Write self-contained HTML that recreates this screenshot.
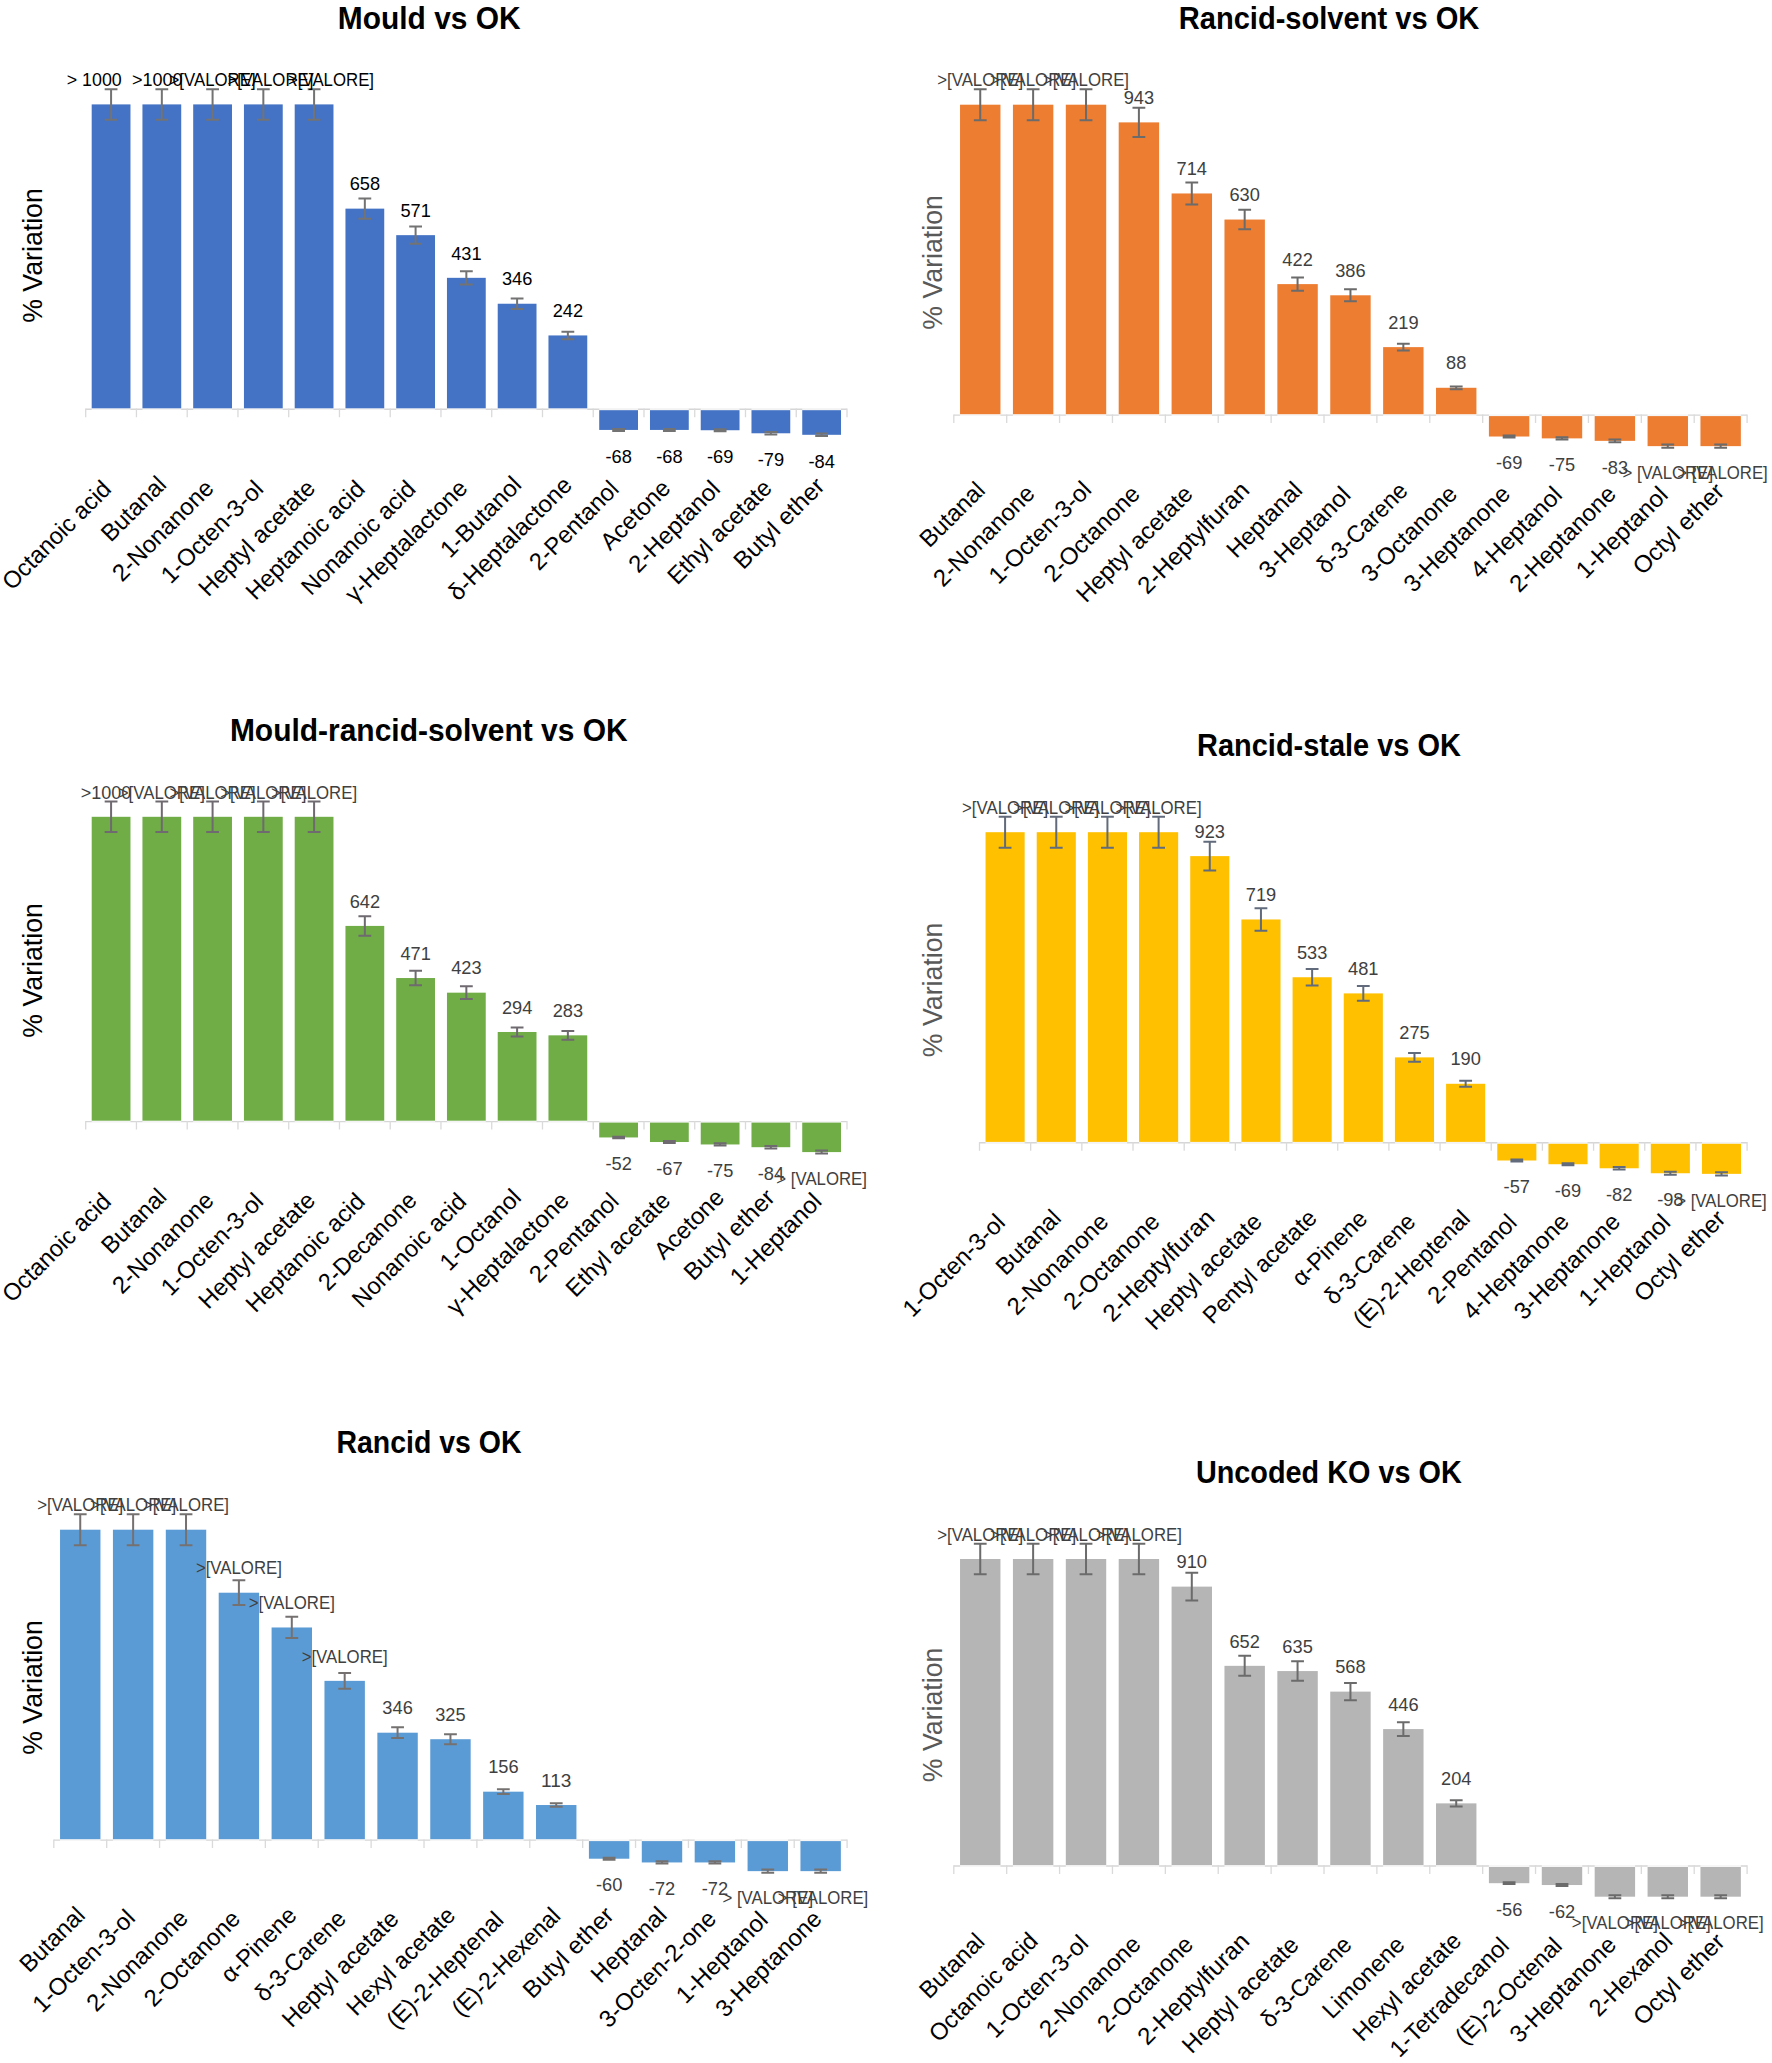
<!DOCTYPE html>
<html lang="en">
<head>
<meta charset="utf-8">
<title>Percent variation of volatile compounds vs OK</title>
<style>
html,body{margin:0;padding:0;background:#fff;}
body{width:1772px;height:2063px;overflow:hidden;}
svg{display:block;font-family:"Liberation Sans",sans-serif;}
text{white-space:pre;}
</style>
</head>
<body>
<svg width="1772" height="2063" viewBox="0 0 1772 2063">
<rect width="1772" height="2063" fill="#fff"/>
<g>
<path d="M85.70 409.20H847.00" stroke="#d6d6d6" stroke-width="1.4" fill="none"/>
<path d="M85.70 408.50v8.70M136.45 408.50v8.70M187.21 408.50v8.70M237.96 408.50v8.70M288.71 408.50v8.70M339.47 408.50v8.70M390.22 408.50v8.70M440.97 408.50v8.70M491.73 408.50v8.70M542.48 408.50v8.70M593.23 408.50v8.70M643.99 408.50v8.70M694.74 408.50v8.70M745.49 408.50v8.70M796.25 408.50v8.70M847.00 408.50v8.70" stroke="#dadada" stroke-width="1.3" fill="none"/>
<path d="M91.69 409.20h38.78M142.44 409.20h38.78M193.20 409.20h38.78M243.95 409.20h38.78M294.70 409.20h38.78M345.46 409.20h38.78M396.21 409.20h38.78M446.96 409.20h38.78M497.72 409.20h38.78M548.47 409.20h38.78M599.22 409.20h38.78M649.98 409.20h38.78M700.73 409.20h38.78M751.48 409.20h38.78M802.24 409.20h38.78" stroke="#fff" stroke-opacity="0.7" stroke-width="2" fill="none"/>
<g fill="#4472c4">
<rect x="91.69" y="104.40" width="38.78" height="303.90"/>
<rect x="142.44" y="104.40" width="38.78" height="303.90"/>
<rect x="193.20" y="104.40" width="38.78" height="303.90"/>
<rect x="243.95" y="104.40" width="38.78" height="303.90"/>
<rect x="294.70" y="104.40" width="38.78" height="303.90"/>
<rect x="345.46" y="208.64" width="38.78" height="199.66"/>
<rect x="396.21" y="235.16" width="38.78" height="173.14"/>
<rect x="446.96" y="277.83" width="38.78" height="130.47"/>
<rect x="497.72" y="303.74" width="38.78" height="104.56"/>
<rect x="548.47" y="335.44" width="38.78" height="72.86"/>
<rect x="599.22" y="410.20" width="38.78" height="19.73"/>
<rect x="649.98" y="410.20" width="38.78" height="19.73"/>
<rect x="700.73" y="410.20" width="38.78" height="20.03"/>
<rect x="751.48" y="410.20" width="38.78" height="23.08"/>
<rect x="802.24" y="410.20" width="38.78" height="24.60"/>
</g>
<path d="M111.08 89.16V119.64M104.68 89.16h12.80M104.68 119.64h12.80M161.83 89.16V119.64M155.43 89.16h12.80M155.43 119.64h12.80M212.58 89.16V119.64M206.18 89.16h12.80M206.18 119.64h12.80M263.34 89.16V119.64M256.94 89.16h12.80M256.94 119.64h12.80M314.09 89.16V119.64M307.69 89.16h12.80M307.69 119.64h12.80M364.84 198.61V218.67M358.44 198.61h12.80M358.44 218.67h12.80M415.60 226.46V243.86M409.20 226.46h12.80M409.20 243.86h12.80M466.35 271.26V284.40M459.95 271.26h12.80M459.95 284.40h12.80M517.10 298.47V309.01M510.70 298.47h12.80M510.70 309.01h12.80M567.86 331.75V339.13M561.46 331.75h12.80M561.46 339.13h12.80M618.61 428.89V430.96M612.21 428.89h12.80M612.21 430.96h12.80M669.36 428.89V430.96M662.96 428.89h12.80M662.96 430.96h12.80M720.12 429.18V431.28M713.72 429.18h12.80M713.72 431.28h12.80M770.87 432.08V434.48M764.47 432.08h12.80M764.47 434.48h12.80M821.62 433.52V436.08M815.22 433.52h12.80M815.22 436.08h12.80" stroke="#737373" stroke-width="2" fill="none"/>
<text x="337.76" y="28.60" font-size="31.20" font-weight="700" textLength="182.88" lengthAdjust="spacingAndGlyphs">Mould vs OK</text>
<text transform="translate(42.40 255.50) rotate(-90)" x="-67.30" y="0.00" font-size="26.98" textLength="134.61" lengthAdjust="spacingAndGlyphs">% Variation</text>
<text x="66.69" y="86.10" font-size="18.40" textLength="55.03" lengthAdjust="spacingAndGlyphs">&gt; 1000</text>
<text x="131.95" y="86.10" font-size="18.40" textLength="50.51" lengthAdjust="spacingAndGlyphs">&gt;1000</text>
<text x="169.56" y="86.10" font-size="18.40" textLength="86.05" lengthAdjust="spacingAndGlyphs">&gt;[VALORE]</text>
<text x="227.38" y="86.10" font-size="18.40" textLength="86.05" lengthAdjust="spacingAndGlyphs">&gt;[VALORE]</text>
<text x="287.98" y="86.10" font-size="18.40" textLength="86.05" lengthAdjust="spacingAndGlyphs">&gt;[VALORE]</text>
<text x="349.64" y="190.34" font-size="18.40" textLength="30.41" lengthAdjust="spacingAndGlyphs">658</text>
<text x="400.39" y="216.86" font-size="18.40" textLength="30.41" lengthAdjust="spacingAndGlyphs">571</text>
<text x="451.14" y="259.53" font-size="18.40" textLength="30.41" lengthAdjust="spacingAndGlyphs">431</text>
<text x="501.90" y="285.44" font-size="18.40" textLength="30.41" lengthAdjust="spacingAndGlyphs">346</text>
<text x="552.65" y="317.14" font-size="18.40" textLength="30.41" lengthAdjust="spacingAndGlyphs">242</text>
<text x="605.41" y="462.63" font-size="18.40" textLength="26.40" lengthAdjust="spacingAndGlyphs">-68</text>
<text x="656.16" y="462.63" font-size="18.40" textLength="26.40" lengthAdjust="spacingAndGlyphs">-68</text>
<text x="706.92" y="462.93" font-size="18.40" textLength="26.40" lengthAdjust="spacingAndGlyphs">-69</text>
<text x="757.67" y="465.98" font-size="18.40" textLength="26.40" lengthAdjust="spacingAndGlyphs">-79</text>
<text x="808.42" y="467.50" font-size="18.40" textLength="26.40" lengthAdjust="spacingAndGlyphs">-84</text>
<text transform="translate(112.58 490.50) rotate(-45)" x="-142.34" y="0.00" font-size="23.92" textLength="142.34" lengthAdjust="spacingAndGlyphs">Octanoic acid</text>
<text transform="translate(167.83 486.00) rotate(-45)" x="-80.73" y="0.00" font-size="23.92" textLength="80.73" lengthAdjust="spacingAndGlyphs">Butanal</text>
<text transform="translate(215.08 489.50) rotate(-45)" x="-131.71" y="0.00" font-size="23.92" textLength="131.71" lengthAdjust="spacingAndGlyphs">2-Nonanone</text>
<text transform="translate(264.84 490.50) rotate(-45)" x="-133.15" y="0.00" font-size="23.92" textLength="133.15" lengthAdjust="spacingAndGlyphs">1-Octen-3-ol</text>
<text transform="translate(316.59 489.50) rotate(-45)" x="-153.22" y="0.00" font-size="23.92" textLength="153.22" lengthAdjust="spacingAndGlyphs">Heptyl acetate</text>
<text transform="translate(366.34 490.50) rotate(-45)" x="-156.81" y="0.00" font-size="23.92" textLength="156.81" lengthAdjust="spacingAndGlyphs">Heptanoic acid</text>
<text transform="translate(417.10 490.50) rotate(-45)" x="-149.89" y="0.00" font-size="23.92" textLength="149.89" lengthAdjust="spacingAndGlyphs">Nonanoic acid</text>
<text transform="translate(468.85 489.50) rotate(-45)" x="-161.27" y="0.00" font-size="23.92" textLength="161.27" lengthAdjust="spacingAndGlyphs">γ-Heptalactone</text>
<text transform="translate(522.90 486.20) rotate(-45)" x="-103.12" y="0.00" font-size="23.92" textLength="103.12" lengthAdjust="spacingAndGlyphs">1-Butanol</text>
<text transform="translate(573.36 486.50) rotate(-45)" x="-163.28" y="0.00" font-size="23.92" textLength="163.28" lengthAdjust="spacingAndGlyphs">δ-Heptalactone</text>
<text transform="translate(620.11 490.50) rotate(-45)" x="-114.59" y="0.00" font-size="23.92" textLength="114.59" lengthAdjust="spacingAndGlyphs">2-Pentanol</text>
<text transform="translate(671.86 489.50) rotate(-45)" x="-87.60" y="0.00" font-size="23.92" textLength="87.60" lengthAdjust="spacingAndGlyphs">Acetone</text>
<text transform="translate(721.62 490.50) rotate(-45)" x="-118.00" y="0.00" font-size="23.92" textLength="118.00" lengthAdjust="spacingAndGlyphs">2-Heptanol</text>
<text transform="translate(773.37 489.50) rotate(-45)" x="-136.11" y="0.00" font-size="23.92" textLength="136.11" lengthAdjust="spacingAndGlyphs">Ethyl acetate</text>
<text transform="translate(826.12 487.50) rotate(-45)" x="-117.29" y="0.00" font-size="23.92" textLength="117.29" lengthAdjust="spacingAndGlyphs">Butyl ether</text>
</g>
<g>
<path d="M953.80 415.10H1747.10" stroke="#d6d6d6" stroke-width="1.4" fill="none"/>
<path d="M953.80 414.40v8.70M1006.69 414.40v8.70M1059.57 414.40v8.70M1112.46 414.40v8.70M1165.35 414.40v8.70M1218.23 414.40v8.70M1271.12 414.40v8.70M1324.01 414.40v8.70M1376.89 414.40v8.70M1429.78 414.40v8.70M1482.67 414.40v8.70M1535.55 414.40v8.70M1588.44 414.40v8.70M1641.33 414.40v8.70M1694.21 414.40v8.70M1747.10 414.40v8.70" stroke="#dadada" stroke-width="1.3" fill="none"/>
<path d="M960.04 415.10h40.41M1012.93 415.10h40.41M1065.81 415.10h40.41M1118.70 415.10h40.41M1171.59 415.10h40.41M1224.47 415.10h40.41M1277.36 415.10h40.41M1330.25 415.10h40.41M1383.13 415.10h40.41M1436.02 415.10h40.41M1488.91 415.10h40.41M1541.79 415.10h40.41M1594.68 415.10h40.41M1647.57 415.10h40.41M1700.45 415.10h40.41" stroke="#fff" stroke-opacity="0.7" stroke-width="2" fill="none"/>
<g fill="#ed7d31">
<rect x="960.04" y="104.70" width="40.41" height="309.50"/>
<rect x="1012.93" y="104.70" width="40.41" height="309.50"/>
<rect x="1065.81" y="104.70" width="40.41" height="309.50"/>
<rect x="1118.70" y="122.39" width="40.41" height="291.81"/>
<rect x="1171.59" y="193.47" width="40.41" height="220.73"/>
<rect x="1224.47" y="219.55" width="40.41" height="194.65"/>
<rect x="1277.36" y="284.11" width="40.41" height="130.09"/>
<rect x="1330.25" y="295.29" width="40.41" height="118.91"/>
<rect x="1383.13" y="347.12" width="40.41" height="67.08"/>
<rect x="1436.02" y="387.78" width="40.41" height="26.42"/>
<rect x="1488.91" y="416.10" width="40.41" height="20.42"/>
<rect x="1541.79" y="416.10" width="40.41" height="22.28"/>
<rect x="1594.68" y="416.10" width="40.41" height="24.76"/>
<rect x="1647.57" y="416.10" width="40.41" height="30.04"/>
<rect x="1700.45" y="416.10" width="40.41" height="30.04"/>
</g>
<path d="M980.24 89.18V120.22M973.84 89.18h12.80M973.84 120.22h12.80M1033.13 89.18V120.22M1026.73 89.18h12.80M1026.73 120.22h12.80M1086.02 89.18V120.22M1079.62 89.18h12.80M1079.62 120.22h12.80M1138.90 107.76V137.03M1132.50 107.76h12.80M1132.50 137.03h12.80M1191.79 182.39V204.56M1185.39 182.39h12.80M1185.39 204.56h12.80M1244.68 209.77V229.33M1238.28 209.77h12.80M1238.28 229.33h12.80M1297.56 277.56V290.66M1291.16 277.56h12.80M1291.16 290.66h12.80M1350.45 289.29V301.28M1344.05 289.29h12.80M1344.05 301.28h12.80M1403.34 343.72V350.52M1396.94 343.72h12.80M1396.94 350.52h12.80M1456.22 386.42V389.15M1449.82 386.42h12.80M1449.82 389.15h12.80M1509.11 435.45V437.59M1502.71 435.45h12.80M1502.71 437.59h12.80M1562.00 437.22V439.54M1555.60 437.22h12.80M1555.60 439.54h12.80M1614.88 439.58V442.15M1608.48 439.58h12.80M1608.48 442.15h12.80M1667.77 444.59V447.69M1661.37 444.59h12.80M1661.37 447.69h12.80M1720.66 444.59V447.69M1714.26 444.59h12.80M1714.26 447.69h12.80" stroke="#6b6b6b" stroke-width="2" fill="none"/>
<text x="1178.74" y="28.60" font-size="31.20" font-weight="700" textLength="300.52" lengthAdjust="spacingAndGlyphs">Rancid-solvent vs OK</text>
<text transform="translate(942.40 262.40) rotate(-90)" x="-67.30" y="0.00" font-size="26.98" fill="#595959" textLength="134.61" lengthAdjust="spacingAndGlyphs">% Variation</text>
<text x="937.22" y="86.40" font-size="18.40" fill="#404040" textLength="86.05" lengthAdjust="spacingAndGlyphs">&gt;[VALORE]</text>
<text x="990.11" y="86.40" font-size="18.40" fill="#404040" textLength="86.05" lengthAdjust="spacingAndGlyphs">&gt;[VALORE]</text>
<text x="1042.99" y="86.40" font-size="18.40" fill="#404040" textLength="86.05" lengthAdjust="spacingAndGlyphs">&gt;[VALORE]</text>
<text x="1123.70" y="104.09" font-size="18.40" fill="#404040" textLength="30.41" lengthAdjust="spacingAndGlyphs">943</text>
<text x="1176.58" y="175.17" font-size="18.40" fill="#404040" textLength="30.41" lengthAdjust="spacingAndGlyphs">714</text>
<text x="1229.47" y="201.25" font-size="18.40" fill="#404040" textLength="30.41" lengthAdjust="spacingAndGlyphs">630</text>
<text x="1282.36" y="265.81" font-size="18.40" fill="#404040" textLength="30.41" lengthAdjust="spacingAndGlyphs">422</text>
<text x="1335.24" y="276.99" font-size="18.40" fill="#404040" textLength="30.41" lengthAdjust="spacingAndGlyphs">386</text>
<text x="1388.13" y="328.82" font-size="18.40" fill="#404040" textLength="30.41" lengthAdjust="spacingAndGlyphs">219</text>
<text x="1446.09" y="369.48" font-size="18.40" fill="#404040" textLength="20.27" lengthAdjust="spacingAndGlyphs">88</text>
<text x="1495.91" y="469.22" font-size="18.40" fill="#404040" textLength="26.40" lengthAdjust="spacingAndGlyphs">-69</text>
<text x="1548.80" y="471.08" font-size="18.40" fill="#404040" textLength="26.40" lengthAdjust="spacingAndGlyphs">-75</text>
<text x="1601.68" y="473.56" font-size="18.40" fill="#404040" textLength="26.40" lengthAdjust="spacingAndGlyphs">-83</text>
<text x="1622.49" y="478.84" font-size="18.40" fill="#404040" textLength="90.57" lengthAdjust="spacingAndGlyphs">&gt; [VALORE]</text>
<text x="1677.22" y="478.84" font-size="18.40" fill="#404040" textLength="90.57" lengthAdjust="spacingAndGlyphs">&gt; [VALORE]</text>
<text transform="translate(986.44 491.70) rotate(-45)" x="-80.73" y="0.00" font-size="23.92" textLength="80.73" lengthAdjust="spacingAndGlyphs">Butanal</text>
<text transform="translate(1036.13 494.90) rotate(-45)" x="-131.71" y="0.00" font-size="23.92" textLength="131.71" lengthAdjust="spacingAndGlyphs">2-Nonanone</text>
<text transform="translate(1092.72 491.20) rotate(-45)" x="-133.15" y="0.00" font-size="23.92" textLength="133.15" lengthAdjust="spacingAndGlyphs">1-Octen-3-ol</text>
<text transform="translate(1141.40 495.40) rotate(-45)" x="-124.16" y="0.00" font-size="23.92" textLength="124.16" lengthAdjust="spacingAndGlyphs">2-Octanone</text>
<text transform="translate(1194.29 495.40) rotate(-45)" x="-153.22" y="0.00" font-size="23.92" textLength="153.22" lengthAdjust="spacingAndGlyphs">Heptyl acetate</text>
<text transform="translate(1250.88 491.70) rotate(-45)" x="-146.51" y="0.00" font-size="23.92" textLength="146.51" lengthAdjust="spacingAndGlyphs">2-Heptylfuran</text>
<text transform="translate(1303.76 491.70) rotate(-45)" x="-95.61" y="0.00" font-size="23.92" textLength="95.61" lengthAdjust="spacingAndGlyphs">Heptanal</text>
<text transform="translate(1351.95 496.40) rotate(-45)" x="-118.00" y="0.00" font-size="23.92" textLength="118.00" lengthAdjust="spacingAndGlyphs">3-Heptanol</text>
<text transform="translate(1409.14 492.10) rotate(-45)" x="-117.28" y="0.00" font-size="23.92" textLength="117.28" lengthAdjust="spacingAndGlyphs">δ-3-Carene</text>
<text transform="translate(1458.72 495.40) rotate(-45)" x="-124.16" y="0.00" font-size="23.92" textLength="124.16" lengthAdjust="spacingAndGlyphs">3-Octanone</text>
<text transform="translate(1511.61 495.40) rotate(-45)" x="-138.63" y="0.00" font-size="23.92" textLength="138.63" lengthAdjust="spacingAndGlyphs">3-Heptanone</text>
<text transform="translate(1563.50 496.40) rotate(-45)" x="-118.00" y="0.00" font-size="23.92" textLength="118.00" lengthAdjust="spacingAndGlyphs">4-Heptanol</text>
<text transform="translate(1617.38 495.40) rotate(-45)" x="-138.63" y="0.00" font-size="23.92" textLength="138.63" lengthAdjust="spacingAndGlyphs">2-Heptanone</text>
<text transform="translate(1669.27 496.40) rotate(-45)" x="-118.00" y="0.00" font-size="23.92" textLength="118.00" lengthAdjust="spacingAndGlyphs">1-Heptanol</text>
<text transform="translate(1725.66 492.90) rotate(-45)" x="-117.70" y="0.00" font-size="23.92" textLength="117.70" lengthAdjust="spacingAndGlyphs">Octyl ether</text>
</g>
<g>
<path d="M85.70 1121.60H847.00" stroke="#d6d6d6" stroke-width="1.4" fill="none"/>
<path d="M85.70 1120.90v8.70M136.45 1120.90v8.70M187.21 1120.90v8.70M237.96 1120.90v8.70M288.71 1120.90v8.70M339.47 1120.90v8.70M390.22 1120.90v8.70M440.97 1120.90v8.70M491.73 1120.90v8.70M542.48 1120.90v8.70M593.23 1120.90v8.70M643.99 1120.90v8.70M694.74 1120.90v8.70M745.49 1120.90v8.70M796.25 1120.90v8.70M847.00 1120.90v8.70" stroke="#dadada" stroke-width="1.3" fill="none"/>
<path d="M91.69 1121.60h38.78M142.44 1121.60h38.78M193.20 1121.60h38.78M243.95 1121.60h38.78M294.70 1121.60h38.78M345.46 1121.60h38.78M396.21 1121.60h38.78M446.96 1121.60h38.78M497.72 1121.60h38.78M548.47 1121.60h38.78M599.22 1121.60h38.78M649.98 1121.60h38.78M700.73 1121.60h38.78M751.48 1121.60h38.78M802.24 1121.60h38.78" stroke="#fff" stroke-opacity="0.7" stroke-width="2" fill="none"/>
<g fill="#70ad47">
<rect x="91.69" y="816.80" width="38.78" height="303.90"/>
<rect x="142.44" y="816.80" width="38.78" height="303.90"/>
<rect x="193.20" y="816.80" width="38.78" height="303.90"/>
<rect x="243.95" y="816.80" width="38.78" height="303.90"/>
<rect x="294.70" y="816.80" width="38.78" height="303.90"/>
<rect x="345.46" y="925.92" width="38.78" height="194.78"/>
<rect x="396.21" y="978.04" width="38.78" height="142.66"/>
<rect x="446.96" y="992.67" width="38.78" height="128.03"/>
<rect x="497.72" y="1031.99" width="38.78" height="88.71"/>
<rect x="548.47" y="1035.34" width="38.78" height="85.36"/>
<rect x="599.22" y="1122.60" width="38.78" height="14.85"/>
<rect x="649.98" y="1122.60" width="38.78" height="19.42"/>
<rect x="700.73" y="1122.60" width="38.78" height="21.86"/>
<rect x="751.48" y="1122.60" width="38.78" height="24.60"/>
<rect x="802.24" y="1122.60" width="38.78" height="29.48"/>
</g>
<path d="M111.08 801.56V832.04M104.68 801.56h12.80M104.68 832.04h12.80M161.83 801.56V832.04M155.43 801.56h12.80M155.43 832.04h12.80M212.58 801.56V832.04M206.18 801.56h12.80M206.18 832.04h12.80M263.34 801.56V832.04M256.94 801.56h12.80M256.94 832.04h12.80M314.09 801.56V832.04M307.69 801.56h12.80M307.69 832.04h12.80M364.84 916.13V935.70M358.44 916.13h12.80M358.44 935.70h12.80M415.60 970.86V985.22M409.20 970.86h12.80M409.20 985.22h12.80M466.35 986.22V999.12M459.95 986.22h12.80M459.95 999.12h12.80M517.10 1027.51V1036.47M510.70 1027.51h12.80M510.70 1036.47h12.80M567.86 1031.03V1039.65M561.46 1031.03h12.80M561.46 1039.65h12.80M618.61 1136.66V1138.24M612.21 1136.66h12.80M612.21 1138.24h12.80M669.36 1141.00V1143.04M662.96 1141.00h12.80M662.96 1143.04h12.80M720.12 1143.32V1145.60M713.72 1143.32h12.80M713.72 1145.60h12.80M770.87 1145.92V1148.48M764.47 1145.92h12.80M764.47 1148.48h12.80M821.62 1150.56V1153.60M815.22 1150.56h12.80M815.22 1153.60h12.80" stroke="#6f6a70" stroke-width="2" fill="none"/>
<text x="229.88" y="740.70" font-size="31.20" font-weight="700" textLength="397.84" lengthAdjust="spacingAndGlyphs">Mould-rancid-solvent vs OK</text>
<text transform="translate(42.40 970.40) rotate(-90)" x="-67.30" y="0.00" font-size="26.98" textLength="134.61" lengthAdjust="spacingAndGlyphs">% Variation</text>
<text x="80.75" y="798.50" font-size="18.40" fill="#404040" textLength="50.51" lengthAdjust="spacingAndGlyphs">&gt;1000</text>
<text x="118.81" y="798.50" font-size="18.40" fill="#404040" textLength="86.05" lengthAdjust="spacingAndGlyphs">&gt;[VALORE]</text>
<text x="169.56" y="798.50" font-size="18.40" fill="#404040" textLength="86.05" lengthAdjust="spacingAndGlyphs">&gt;[VALORE]</text>
<text x="220.31" y="798.50" font-size="18.40" fill="#404040" textLength="86.05" lengthAdjust="spacingAndGlyphs">&gt;[VALORE]</text>
<text x="271.07" y="798.50" font-size="18.40" fill="#404040" textLength="86.05" lengthAdjust="spacingAndGlyphs">&gt;[VALORE]</text>
<text x="349.64" y="907.62" font-size="18.40" fill="#404040" textLength="30.41" lengthAdjust="spacingAndGlyphs">642</text>
<text x="400.39" y="959.74" font-size="18.40" fill="#404040" textLength="30.41" lengthAdjust="spacingAndGlyphs">471</text>
<text x="451.14" y="974.37" font-size="18.40" fill="#404040" textLength="30.41" lengthAdjust="spacingAndGlyphs">423</text>
<text x="501.90" y="1013.69" font-size="18.40" fill="#404040" textLength="30.41" lengthAdjust="spacingAndGlyphs">294</text>
<text x="552.65" y="1017.04" font-size="18.40" fill="#404040" textLength="30.41" lengthAdjust="spacingAndGlyphs">283</text>
<text x="605.41" y="1170.15" font-size="18.40" fill="#404040" textLength="26.40" lengthAdjust="spacingAndGlyphs">-52</text>
<text x="656.16" y="1174.72" font-size="18.40" fill="#404040" textLength="26.40" lengthAdjust="spacingAndGlyphs">-67</text>
<text x="706.92" y="1177.16" font-size="18.40" fill="#404040" textLength="26.40" lengthAdjust="spacingAndGlyphs">-75</text>
<text x="757.67" y="1179.90" font-size="18.40" fill="#404040" textLength="26.40" lengthAdjust="spacingAndGlyphs">-84</text>
<text x="776.34" y="1184.78" font-size="18.40" fill="#404040" textLength="90.57" lengthAdjust="spacingAndGlyphs">&gt; [VALORE]</text>
<text transform="translate(112.58 1202.90) rotate(-45)" x="-142.34" y="0.00" font-size="23.92" textLength="142.34" lengthAdjust="spacingAndGlyphs">Octanoic acid</text>
<text transform="translate(168.03 1198.20) rotate(-45)" x="-80.73" y="0.00" font-size="23.92" textLength="80.73" lengthAdjust="spacingAndGlyphs">Butanal</text>
<text transform="translate(215.08 1201.90) rotate(-45)" x="-131.71" y="0.00" font-size="23.92" textLength="131.71" lengthAdjust="spacingAndGlyphs">2-Nonanone</text>
<text transform="translate(264.84 1202.90) rotate(-45)" x="-133.15" y="0.00" font-size="23.92" textLength="133.15" lengthAdjust="spacingAndGlyphs">1-Octen-3-ol</text>
<text transform="translate(316.59 1201.90) rotate(-45)" x="-153.22" y="0.00" font-size="23.92" textLength="153.22" lengthAdjust="spacingAndGlyphs">Heptyl acetate</text>
<text transform="translate(366.34 1202.90) rotate(-45)" x="-156.81" y="0.00" font-size="23.92" textLength="156.81" lengthAdjust="spacingAndGlyphs">Heptanoic acid</text>
<text transform="translate(418.10 1201.90) rotate(-45)" x="-127.27" y="0.00" font-size="23.92" textLength="127.27" lengthAdjust="spacingAndGlyphs">2-Decanone</text>
<text transform="translate(467.85 1202.90) rotate(-45)" x="-149.89" y="0.00" font-size="23.92" textLength="149.89" lengthAdjust="spacingAndGlyphs">Nonanoic acid</text>
<text transform="translate(522.60 1198.90) rotate(-45)" x="-103.53" y="0.00" font-size="23.92" textLength="103.53" lengthAdjust="spacingAndGlyphs">1-Octanol</text>
<text transform="translate(570.36 1201.90) rotate(-45)" x="-161.27" y="0.00" font-size="23.92" textLength="161.27" lengthAdjust="spacingAndGlyphs">γ-Heptalactone</text>
<text transform="translate(620.11 1202.90) rotate(-45)" x="-114.59" y="0.00" font-size="23.92" textLength="114.59" lengthAdjust="spacingAndGlyphs">2-Pentanol</text>
<text transform="translate(671.86 1201.90) rotate(-45)" x="-136.11" y="0.00" font-size="23.92" textLength="136.11" lengthAdjust="spacingAndGlyphs">Ethyl acetate</text>
<text transform="translate(725.62 1198.90) rotate(-45)" x="-87.60" y="0.00" font-size="23.92" textLength="87.60" lengthAdjust="spacingAndGlyphs">Acetone</text>
<text transform="translate(776.37 1198.90) rotate(-45)" x="-117.29" y="0.00" font-size="23.92" textLength="117.29" lengthAdjust="spacingAndGlyphs">Butyl ether</text>
<text transform="translate(823.12 1202.90) rotate(-45)" x="-118.00" y="0.00" font-size="23.92" textLength="118.00" lengthAdjust="spacingAndGlyphs">1-Heptanol</text>
</g>
<g>
<path d="M979.50 1142.80H1747.10" stroke="#d6d6d6" stroke-width="1.4" fill="none"/>
<path d="M979.50 1142.10v8.70M1030.67 1142.10v8.70M1081.85 1142.10v8.70M1133.02 1142.10v8.70M1184.19 1142.10v8.70M1235.37 1142.10v8.70M1286.54 1142.10v8.70M1337.71 1142.10v8.70M1388.89 1142.10v8.70M1440.06 1142.10v8.70M1491.23 1142.10v8.70M1542.41 1142.10v8.70M1593.58 1142.10v8.70M1644.75 1142.10v8.70M1695.93 1142.10v8.70M1747.10 1142.10v8.70" stroke="#dadada" stroke-width="1.3" fill="none"/>
<path d="M985.54 1142.80h39.10M1036.71 1142.80h39.10M1087.89 1142.80h39.10M1139.06 1142.80h39.10M1190.23 1142.80h39.10M1241.41 1142.80h39.10M1292.58 1142.80h39.10M1343.75 1142.80h39.10M1394.93 1142.80h39.10M1446.10 1142.80h39.10M1497.27 1142.80h39.10M1548.45 1142.80h39.10M1599.62 1142.80h39.10M1650.79 1142.80h39.10M1701.97 1142.80h39.10" stroke="#fff" stroke-opacity="0.7" stroke-width="2" fill="none"/>
<g fill="#ffc000">
<rect x="985.54" y="832.20" width="39.10" height="309.70"/>
<rect x="1036.71" y="832.20" width="39.10" height="309.70"/>
<rect x="1087.89" y="832.20" width="39.10" height="309.70"/>
<rect x="1139.06" y="832.20" width="39.10" height="309.70"/>
<rect x="1190.23" y="856.12" width="39.10" height="285.78"/>
<rect x="1241.41" y="919.48" width="39.10" height="222.42"/>
<rect x="1292.58" y="977.25" width="39.10" height="164.65"/>
<rect x="1343.75" y="993.40" width="39.10" height="148.50"/>
<rect x="1394.93" y="1057.38" width="39.10" height="84.51"/>
<rect x="1446.10" y="1083.79" width="39.10" height="58.11"/>
<rect x="1497.27" y="1143.80" width="39.10" height="16.70"/>
<rect x="1548.45" y="1143.80" width="39.10" height="20.43"/>
<rect x="1599.62" y="1143.80" width="39.10" height="24.47"/>
<rect x="1650.79" y="1143.80" width="39.10" height="29.44"/>
<rect x="1701.97" y="1143.80" width="39.10" height="30.06"/>
</g>
<path d="M1005.09 816.67V847.73M998.69 816.67h12.80M998.69 847.73h12.80M1056.26 816.67V847.73M1049.86 816.67h12.80M1049.86 847.73h12.80M1107.43 816.67V847.73M1101.03 816.67h12.80M1101.03 847.73h12.80M1158.61 816.67V847.73M1152.21 816.67h12.80M1152.21 847.73h12.80M1209.78 841.78V870.45M1203.38 841.78h12.80M1203.38 870.45h12.80M1260.95 908.31V930.64M1254.55 908.31h12.80M1254.55 930.64h12.80M1312.13 968.97V985.53M1305.73 968.97h12.80M1305.73 985.53h12.80M1363.30 985.93V1000.87M1356.90 985.93h12.80M1356.90 1000.87h12.80M1414.47 1053.11V1061.66M1408.07 1053.11h12.80M1408.07 1061.66h12.80M1465.65 1080.84V1086.74M1459.25 1080.84h12.80M1459.25 1086.74h12.80M1516.82 1159.62V1161.39M1510.42 1159.62h12.80M1510.42 1161.39h12.80M1567.99 1163.16V1165.30M1561.59 1163.16h12.80M1561.59 1165.30h12.80M1619.17 1167.00V1169.54M1612.77 1167.00h12.80M1612.77 1169.54h12.80M1670.34 1171.72V1174.76M1663.94 1171.72h12.80M1663.94 1174.76h12.80M1721.51 1172.31V1175.41M1715.11 1172.31h12.80M1715.11 1175.41h12.80" stroke="#626b7b" stroke-width="2" fill="none"/>
<text x="1197.05" y="756.20" font-size="31.20" font-weight="700" textLength="263.90" lengthAdjust="spacingAndGlyphs">Rancid-stale vs OK</text>
<text transform="translate(942.40 989.90) rotate(-90)" x="-67.30" y="0.00" font-size="26.98" fill="#595959" textLength="134.61" lengthAdjust="spacingAndGlyphs">% Variation</text>
<text x="962.06" y="813.90" font-size="18.40" fill="#404040" textLength="86.05" lengthAdjust="spacingAndGlyphs">&gt;[VALORE]</text>
<text x="1013.24" y="813.90" font-size="18.40" fill="#404040" textLength="86.05" lengthAdjust="spacingAndGlyphs">&gt;[VALORE]</text>
<text x="1064.41" y="813.90" font-size="18.40" fill="#404040" textLength="86.05" lengthAdjust="spacingAndGlyphs">&gt;[VALORE]</text>
<text x="1115.58" y="813.90" font-size="18.40" fill="#404040" textLength="86.05" lengthAdjust="spacingAndGlyphs">&gt;[VALORE]</text>
<text x="1194.57" y="837.82" font-size="18.40" fill="#404040" textLength="30.41" lengthAdjust="spacingAndGlyphs">923</text>
<text x="1245.75" y="901.18" font-size="18.40" fill="#404040" textLength="30.41" lengthAdjust="spacingAndGlyphs">719</text>
<text x="1296.92" y="958.95" font-size="18.40" fill="#404040" textLength="30.41" lengthAdjust="spacingAndGlyphs">533</text>
<text x="1348.09" y="975.10" font-size="18.40" fill="#404040" textLength="30.41" lengthAdjust="spacingAndGlyphs">481</text>
<text x="1399.27" y="1039.09" font-size="18.40" fill="#404040" textLength="30.41" lengthAdjust="spacingAndGlyphs">275</text>
<text x="1450.44" y="1065.49" font-size="18.40" fill="#404040" textLength="30.41" lengthAdjust="spacingAndGlyphs">190</text>
<text x="1503.62" y="1193.20" font-size="18.40" fill="#404040" textLength="26.40" lengthAdjust="spacingAndGlyphs">-57</text>
<text x="1554.79" y="1196.93" font-size="18.40" fill="#404040" textLength="26.40" lengthAdjust="spacingAndGlyphs">-69</text>
<text x="1605.97" y="1200.97" font-size="18.40" fill="#404040" textLength="26.40" lengthAdjust="spacingAndGlyphs">-82</text>
<text x="1657.14" y="1205.94" font-size="18.40" fill="#404040" textLength="26.40" lengthAdjust="spacingAndGlyphs">-98</text>
<text x="1676.23" y="1206.56" font-size="18.40" fill="#404040" textLength="90.57" lengthAdjust="spacingAndGlyphs">&gt; [VALORE]</text>
<text transform="translate(1006.59 1224.10) rotate(-45)" x="-133.15" y="0.00" font-size="23.92" textLength="133.15" lengthAdjust="spacingAndGlyphs">1-Octen-3-ol</text>
<text transform="translate(1062.46 1219.40) rotate(-45)" x="-80.73" y="0.00" font-size="23.92" textLength="80.73" lengthAdjust="spacingAndGlyphs">Butanal</text>
<text transform="translate(1109.93 1223.10) rotate(-45)" x="-131.71" y="0.00" font-size="23.92" textLength="131.71" lengthAdjust="spacingAndGlyphs">2-Nonanone</text>
<text transform="translate(1161.11 1223.10) rotate(-45)" x="-124.16" y="0.00" font-size="23.92" textLength="124.16" lengthAdjust="spacingAndGlyphs">2-Octanone</text>
<text transform="translate(1215.98 1219.40) rotate(-45)" x="-146.51" y="0.00" font-size="23.92" textLength="146.51" lengthAdjust="spacingAndGlyphs">2-Heptylfuran</text>
<text transform="translate(1263.45 1223.10) rotate(-45)" x="-153.22" y="0.00" font-size="23.92" textLength="153.22" lengthAdjust="spacingAndGlyphs">Heptyl acetate</text>
<text transform="translate(1318.33 1219.40) rotate(-45)" x="-149.81" y="0.00" font-size="23.92" textLength="149.81" lengthAdjust="spacingAndGlyphs">Pentyl acetate</text>
<text transform="translate(1368.80 1220.10) rotate(-45)" x="-95.30" y="0.00" font-size="23.92" textLength="95.30" lengthAdjust="spacingAndGlyphs">α-Pinene</text>
<text transform="translate(1416.97 1223.10) rotate(-45)" x="-117.28" y="0.00" font-size="23.92" textLength="117.28" lengthAdjust="spacingAndGlyphs">δ-3-Carene</text>
<text transform="translate(1471.45 1219.80) rotate(-45)" x="-153.69" y="0.00" font-size="23.92" textLength="153.69" lengthAdjust="spacingAndGlyphs">(E)-2-Heptenal</text>
<text transform="translate(1518.32 1224.10) rotate(-45)" x="-114.59" y="0.00" font-size="23.92" textLength="114.59" lengthAdjust="spacingAndGlyphs">2-Pentanol</text>
<text transform="translate(1570.49 1223.10) rotate(-45)" x="-138.63" y="0.00" font-size="23.92" textLength="138.63" lengthAdjust="spacingAndGlyphs">4-Heptanone</text>
<text transform="translate(1621.67 1223.10) rotate(-45)" x="-138.63" y="0.00" font-size="23.92" textLength="138.63" lengthAdjust="spacingAndGlyphs">3-Heptanone</text>
<text transform="translate(1671.84 1224.10) rotate(-45)" x="-118.00" y="0.00" font-size="23.92" textLength="118.00" lengthAdjust="spacingAndGlyphs">1-Heptanol</text>
<text transform="translate(1727.01 1220.10) rotate(-45)" x="-117.70" y="0.00" font-size="23.92" textLength="117.70" lengthAdjust="spacingAndGlyphs">Octyl ether</text>
</g>
<g>
<path d="M53.80 1840.10H847.10" stroke="#d6d6d6" stroke-width="1.4" fill="none"/>
<path d="M53.80 1839.40v8.70M106.69 1839.40v8.70M159.57 1839.40v8.70M212.46 1839.40v8.70M265.35 1839.40v8.70M318.23 1839.40v8.70M371.12 1839.40v8.70M424.01 1839.40v8.70M476.89 1839.40v8.70M529.78 1839.40v8.70M582.67 1839.40v8.70M635.55 1839.40v8.70M688.44 1839.40v8.70M741.33 1839.40v8.70M794.21 1839.40v8.70M847.10 1839.40v8.70" stroke="#dadada" stroke-width="1.3" fill="none"/>
<path d="M60.04 1840.10h40.41M112.93 1840.10h40.41M165.81 1840.10h40.41M218.70 1840.10h40.41M271.59 1840.10h40.41M324.47 1840.10h40.41M377.36 1840.10h40.41M430.25 1840.10h40.41M483.13 1840.10h40.41M536.02 1840.10h40.41M588.91 1840.10h40.41M641.79 1840.10h40.41M694.68 1840.10h40.41M747.57 1840.10h40.41M800.45 1840.10h40.41" stroke="#fff" stroke-opacity="0.7" stroke-width="2" fill="none"/>
<g fill="#5b9bd5">
<rect x="60.04" y="1529.70" width="40.41" height="309.50"/>
<rect x="112.93" y="1529.70" width="40.41" height="309.50"/>
<rect x="165.81" y="1529.70" width="40.41" height="309.50"/>
<rect x="218.70" y="1592.71" width="40.41" height="246.49"/>
<rect x="271.59" y="1627.48" width="40.41" height="211.72"/>
<rect x="324.47" y="1680.86" width="40.41" height="158.34"/>
<rect x="377.36" y="1732.70" width="40.41" height="106.50"/>
<rect x="430.25" y="1739.22" width="40.41" height="99.98"/>
<rect x="483.13" y="1791.68" width="40.41" height="47.52"/>
<rect x="536.02" y="1805.02" width="40.41" height="34.18"/>
<rect x="588.91" y="1841.10" width="40.41" height="17.62"/>
<rect x="641.79" y="1841.10" width="40.41" height="21.35"/>
<rect x="694.68" y="1841.10" width="40.41" height="21.35"/>
<rect x="747.57" y="1841.10" width="40.41" height="30.04"/>
<rect x="800.45" y="1841.10" width="40.41" height="30.04"/>
</g>
<path d="M80.24 1514.18V1545.22M73.84 1514.18h12.80M73.84 1545.22h12.80M133.13 1514.18V1545.22M126.73 1514.18h12.80M126.73 1545.22h12.80M186.02 1514.18V1545.22M179.62 1514.18h12.80M179.62 1545.22h12.80M238.90 1580.34V1605.08M232.50 1580.34h12.80M232.50 1605.08h12.80M291.79 1616.84V1638.11M285.39 1616.84h12.80M285.39 1638.11h12.80M344.68 1672.90V1688.83M338.28 1672.90h12.80M338.28 1688.83h12.80M397.56 1727.33V1738.07M391.16 1727.33h12.80M391.16 1738.07h12.80M450.45 1734.18V1744.26M444.05 1734.18h12.80M444.05 1744.26h12.80M503.34 1789.26V1794.10M496.94 1789.26h12.80M496.94 1794.10h12.80M556.22 1803.27V1806.78M549.82 1803.27h12.80M549.82 1806.78h12.80M609.11 1857.79V1859.66M602.71 1857.79h12.80M602.71 1859.66h12.80M662.00 1861.33V1863.57M655.60 1861.33h12.80M655.60 1863.57h12.80M714.88 1861.33V1863.57M708.48 1861.33h12.80M708.48 1863.57h12.80M767.77 1869.59V1872.69M761.37 1869.59h12.80M761.37 1872.69h12.80M820.66 1869.59V1872.69M814.26 1869.59h12.80M814.26 1872.69h12.80" stroke="#767171" stroke-width="2" fill="none"/>
<text x="336.46" y="1452.60" font-size="31.20" font-weight="700" textLength="185.08" lengthAdjust="spacingAndGlyphs">Rancid vs OK</text>
<text transform="translate(42.40 1687.50) rotate(-90)" x="-67.30" y="0.00" font-size="26.98" textLength="134.61" lengthAdjust="spacingAndGlyphs">% Variation</text>
<text x="37.22" y="1511.40" font-size="18.40" fill="#404040" textLength="86.05" lengthAdjust="spacingAndGlyphs">&gt;[VALORE]</text>
<text x="90.11" y="1511.40" font-size="18.40" fill="#404040" textLength="86.05" lengthAdjust="spacingAndGlyphs">&gt;[VALORE]</text>
<text x="142.99" y="1511.40" font-size="18.40" fill="#404040" textLength="86.05" lengthAdjust="spacingAndGlyphs">&gt;[VALORE]</text>
<text x="195.88" y="1574.41" font-size="18.40" fill="#404040" textLength="86.05" lengthAdjust="spacingAndGlyphs">&gt;[VALORE]</text>
<text x="248.77" y="1609.18" font-size="18.40" fill="#404040" textLength="86.05" lengthAdjust="spacingAndGlyphs">&gt;[VALORE]</text>
<text x="301.65" y="1662.56" font-size="18.40" fill="#404040" textLength="86.05" lengthAdjust="spacingAndGlyphs">&gt;[VALORE]</text>
<text x="382.36" y="1714.40" font-size="18.40" fill="#404040" textLength="30.41" lengthAdjust="spacingAndGlyphs">346</text>
<text x="435.24" y="1720.92" font-size="18.40" fill="#404040" textLength="30.41" lengthAdjust="spacingAndGlyphs">325</text>
<text x="488.13" y="1773.38" font-size="18.40" fill="#404040" textLength="30.41" lengthAdjust="spacingAndGlyphs">156</text>
<text x="541.02" y="1786.72" font-size="18.40" fill="#404040" textLength="30.41" lengthAdjust="spacingAndGlyphs">113</text>
<text x="595.91" y="1891.42" font-size="18.40" fill="#404040" textLength="26.40" lengthAdjust="spacingAndGlyphs">-60</text>
<text x="648.80" y="1895.15" font-size="18.40" fill="#404040" textLength="26.40" lengthAdjust="spacingAndGlyphs">-72</text>
<text x="701.68" y="1895.15" font-size="18.40" fill="#404040" textLength="26.40" lengthAdjust="spacingAndGlyphs">-72</text>
<text x="722.49" y="1903.84" font-size="18.40" fill="#404040" textLength="90.57" lengthAdjust="spacingAndGlyphs">&gt; [VALORE]</text>
<text x="777.72" y="1903.84" font-size="18.40" fill="#404040" textLength="90.57" lengthAdjust="spacingAndGlyphs">&gt; [VALORE]</text>
<text transform="translate(86.44 1916.70) rotate(-45)" x="-80.73" y="0.00" font-size="23.92" textLength="80.73" lengthAdjust="spacingAndGlyphs">Butanal</text>
<text transform="translate(136.43 1919.60) rotate(-45)" x="-133.15" y="0.00" font-size="23.92" textLength="133.15" lengthAdjust="spacingAndGlyphs">1-Octen-3-ol</text>
<text transform="translate(189.42 1919.50) rotate(-45)" x="-131.71" y="0.00" font-size="23.92" textLength="131.71" lengthAdjust="spacingAndGlyphs">2-Nonanone</text>
<text transform="translate(241.60 1920.20) rotate(-45)" x="-124.16" y="0.00" font-size="23.92" textLength="124.16" lengthAdjust="spacingAndGlyphs">2-Octanone</text>
<text transform="translate(297.99 1916.70) rotate(-45)" x="-95.30" y="0.00" font-size="23.92" textLength="95.30" lengthAdjust="spacingAndGlyphs">α-Pinene</text>
<text transform="translate(347.38 1920.20) rotate(-45)" x="-117.28" y="0.00" font-size="23.92" textLength="117.28" lengthAdjust="spacingAndGlyphs">δ-3-Carene</text>
<text transform="translate(400.06 1920.40) rotate(-45)" x="-153.22" y="0.00" font-size="23.92" textLength="153.22" lengthAdjust="spacingAndGlyphs">Heptyl acetate</text>
<text transform="translate(456.65 1916.70) rotate(-45)" x="-141.83" y="0.00" font-size="23.92" textLength="141.83" lengthAdjust="spacingAndGlyphs">Hexyl acetate</text>
<text transform="translate(504.84 1921.40) rotate(-45)" x="-153.69" y="0.00" font-size="23.92" textLength="153.69" lengthAdjust="spacingAndGlyphs">(E)-2-Heptenal</text>
<text transform="translate(561.72 1917.40) rotate(-45)" x="-141.90" y="0.00" font-size="23.92" textLength="141.90" lengthAdjust="spacingAndGlyphs">(E)-2-Hexenal</text>
<text transform="translate(615.31 1916.70) rotate(-45)" x="-117.29" y="0.00" font-size="23.92" textLength="117.29" lengthAdjust="spacingAndGlyphs">Butyl ether</text>
<text transform="translate(668.20 1916.70) rotate(-45)" x="-95.61" y="0.00" font-size="23.92" textLength="95.61" lengthAdjust="spacingAndGlyphs">Heptanal</text>
<text transform="translate(717.58 1920.20) rotate(-45)" x="-153.78" y="0.00" font-size="23.92" textLength="153.78" lengthAdjust="spacingAndGlyphs">3-Octen-2-one</text>
<text transform="translate(769.27 1921.40) rotate(-45)" x="-118.00" y="0.00" font-size="23.92" textLength="118.00" lengthAdjust="spacingAndGlyphs">1-Heptanol</text>
<text transform="translate(823.16 1920.40) rotate(-45)" x="-138.63" y="0.00" font-size="23.92" textLength="138.63" lengthAdjust="spacingAndGlyphs">3-Heptanone</text>
</g>
<g>
<path d="M953.80 1866.00H1747.10" stroke="#d6d6d6" stroke-width="1.4" fill="none"/>
<path d="M953.80 1865.30v8.70M1006.69 1865.30v8.70M1059.57 1865.30v8.70M1112.46 1865.30v8.70M1165.35 1865.30v8.70M1218.23 1865.30v8.70M1271.12 1865.30v8.70M1324.01 1865.30v8.70M1376.89 1865.30v8.70M1429.78 1865.30v8.70M1482.67 1865.30v8.70M1535.55 1865.30v8.70M1588.44 1865.30v8.70M1641.33 1865.30v8.70M1694.21 1865.30v8.70M1747.10 1865.30v8.70" stroke="#dadada" stroke-width="1.3" fill="none"/>
<path d="M960.04 1866.00h40.41M1012.93 1866.00h40.41M1065.81 1866.00h40.41M1118.70 1866.00h40.41M1171.59 1866.00h40.41M1224.47 1866.00h40.41M1277.36 1866.00h40.41M1330.25 1866.00h40.41M1383.13 1866.00h40.41M1436.02 1866.00h40.41M1488.91 1866.00h40.41M1541.79 1866.00h40.41M1594.68 1866.00h40.41M1647.57 1866.00h40.41M1700.45 1866.00h40.41" stroke="#fff" stroke-opacity="0.7" stroke-width="2" fill="none"/>
<g fill="#b5b5b5">
<rect x="960.04" y="1559.00" width="40.41" height="306.10"/>
<rect x="1012.93" y="1559.00" width="40.41" height="306.10"/>
<rect x="1065.81" y="1559.00" width="40.41" height="306.10"/>
<rect x="1118.70" y="1559.00" width="40.41" height="306.10"/>
<rect x="1171.59" y="1586.63" width="40.41" height="278.47"/>
<rect x="1224.47" y="1665.84" width="40.41" height="199.26"/>
<rect x="1277.36" y="1671.06" width="40.41" height="194.04"/>
<rect x="1330.25" y="1691.62" width="40.41" height="173.48"/>
<rect x="1383.13" y="1729.08" width="40.41" height="136.02"/>
<rect x="1436.02" y="1803.37" width="40.41" height="61.73"/>
<rect x="1488.91" y="1867.00" width="40.41" height="16.19"/>
<rect x="1541.79" y="1867.00" width="40.41" height="18.03"/>
<rect x="1594.68" y="1867.00" width="40.41" height="29.70"/>
<rect x="1647.57" y="1867.00" width="40.41" height="29.70"/>
<rect x="1700.45" y="1867.00" width="40.41" height="29.70"/>
</g>
<path d="M980.24 1543.65V1574.35M973.84 1543.65h12.80M973.84 1574.35h12.80M1033.13 1543.65V1574.35M1026.73 1543.65h12.80M1026.73 1574.35h12.80M1086.02 1543.65V1574.35M1079.62 1543.65h12.80M1079.62 1574.35h12.80M1138.90 1543.65V1574.35M1132.50 1543.65h12.80M1132.50 1574.35h12.80M1191.79 1572.66V1600.60M1185.39 1572.66h12.80M1185.39 1600.60h12.80M1244.68 1655.83V1675.84M1238.28 1655.83h12.80M1238.28 1675.84h12.80M1297.56 1661.31V1680.80M1291.16 1661.31h12.80M1291.16 1680.80h12.80M1350.45 1682.91V1700.34M1344.05 1682.91h12.80M1344.05 1700.34h12.80M1403.34 1722.23V1735.92M1396.94 1722.23h12.80M1396.94 1735.92h12.80M1456.22 1800.24V1806.50M1449.82 1800.24h12.80M1449.82 1806.50h12.80M1509.11 1882.33V1884.05M1502.71 1882.33h12.80M1502.71 1884.05h12.80M1562.00 1884.08V1885.99M1555.60 1884.08h12.80M1555.60 1885.99h12.80M1614.88 1895.16V1898.24M1608.48 1895.16h12.80M1608.48 1898.24h12.80M1667.77 1895.16V1898.24M1661.37 1895.16h12.80M1661.37 1898.24h12.80M1720.66 1895.16V1898.24M1714.26 1895.16h12.80M1714.26 1898.24h12.80" stroke="#6b6b6b" stroke-width="2" fill="none"/>
<text x="1195.89" y="1482.70" font-size="31.20" font-weight="700" textLength="265.82" lengthAdjust="spacingAndGlyphs">Uncoded KO vs OK</text>
<text transform="translate(942.40 1714.90) rotate(-90)" x="-67.30" y="0.00" font-size="26.98" fill="#595959" textLength="134.61" lengthAdjust="spacingAndGlyphs">% Variation</text>
<text x="937.22" y="1540.70" font-size="18.40" fill="#404040" textLength="86.05" lengthAdjust="spacingAndGlyphs">&gt;[VALORE]</text>
<text x="990.11" y="1540.70" font-size="18.40" fill="#404040" textLength="86.05" lengthAdjust="spacingAndGlyphs">&gt;[VALORE]</text>
<text x="1042.99" y="1540.70" font-size="18.40" fill="#404040" textLength="86.05" lengthAdjust="spacingAndGlyphs">&gt;[VALORE]</text>
<text x="1095.88" y="1540.70" font-size="18.40" fill="#404040" textLength="86.05" lengthAdjust="spacingAndGlyphs">&gt;[VALORE]</text>
<text x="1176.58" y="1568.33" font-size="18.40" fill="#404040" textLength="30.41" lengthAdjust="spacingAndGlyphs">910</text>
<text x="1229.47" y="1647.54" font-size="18.40" fill="#404040" textLength="30.41" lengthAdjust="spacingAndGlyphs">652</text>
<text x="1282.36" y="1652.76" font-size="18.40" fill="#404040" textLength="30.41" lengthAdjust="spacingAndGlyphs">635</text>
<text x="1335.24" y="1673.32" font-size="18.40" fill="#404040" textLength="30.41" lengthAdjust="spacingAndGlyphs">568</text>
<text x="1388.13" y="1710.78" font-size="18.40" fill="#404040" textLength="30.41" lengthAdjust="spacingAndGlyphs">446</text>
<text x="1441.02" y="1785.07" font-size="18.40" fill="#404040" textLength="30.41" lengthAdjust="spacingAndGlyphs">204</text>
<text x="1495.91" y="1915.89" font-size="18.40" fill="#404040" textLength="26.40" lengthAdjust="spacingAndGlyphs">-56</text>
<text x="1548.80" y="1917.73" font-size="18.40" fill="#404040" textLength="26.40" lengthAdjust="spacingAndGlyphs">-62</text>
<text x="1571.86" y="1929.40" font-size="18.40" fill="#404040" textLength="86.05" lengthAdjust="spacingAndGlyphs">&gt;[VALORE]</text>
<text x="1624.75" y="1929.40" font-size="18.40" fill="#404040" textLength="86.05" lengthAdjust="spacingAndGlyphs">&gt;[VALORE]</text>
<text x="1677.63" y="1929.40" font-size="18.40" fill="#404040" textLength="86.05" lengthAdjust="spacingAndGlyphs">&gt;[VALORE]</text>
<text transform="translate(986.04 1943.00) rotate(-45)" x="-80.73" y="0.00" font-size="23.92" textLength="80.73" lengthAdjust="spacingAndGlyphs">Butanal</text>
<text transform="translate(1039.33 1942.60) rotate(-45)" x="-142.34" y="0.00" font-size="23.92" textLength="142.34" lengthAdjust="spacingAndGlyphs">Octanoic acid</text>
<text transform="translate(1089.72 1945.10) rotate(-45)" x="-133.15" y="0.00" font-size="23.92" textLength="133.15" lengthAdjust="spacingAndGlyphs">1-Octen-3-ol</text>
<text transform="translate(1142.10 1945.60) rotate(-45)" x="-131.71" y="0.00" font-size="23.92" textLength="131.71" lengthAdjust="spacingAndGlyphs">2-Nonanone</text>
<text transform="translate(1194.69 1945.90) rotate(-45)" x="-124.16" y="0.00" font-size="23.92" textLength="124.16" lengthAdjust="spacingAndGlyphs">2-Octanone</text>
<text transform="translate(1250.88 1942.60) rotate(-45)" x="-146.51" y="0.00" font-size="23.92" textLength="146.51" lengthAdjust="spacingAndGlyphs">2-Heptylfuran</text>
<text transform="translate(1300.06 1946.30) rotate(-45)" x="-153.22" y="0.00" font-size="23.92" textLength="153.22" lengthAdjust="spacingAndGlyphs">Heptyl acetate</text>
<text transform="translate(1353.15 1946.10) rotate(-45)" x="-117.28" y="0.00" font-size="23.92" textLength="117.28" lengthAdjust="spacingAndGlyphs">δ-3-Carene</text>
<text transform="translate(1406.04 1946.10) rotate(-45)" x="-104.57" y="0.00" font-size="23.92" textLength="104.57" lengthAdjust="spacingAndGlyphs">Limonene</text>
<text transform="translate(1462.72 1942.30) rotate(-45)" x="-141.83" y="0.00" font-size="23.92" textLength="141.83" lengthAdjust="spacingAndGlyphs">Hexyl acetate</text>
<text transform="translate(1510.61 1947.30) rotate(-45)" x="-157.16" y="0.00" font-size="23.92" textLength="157.16" lengthAdjust="spacingAndGlyphs">1-Tetradecanol</text>
<text transform="translate(1563.50 1947.30) rotate(-45)" x="-139.22" y="0.00" font-size="23.92" textLength="139.22" lengthAdjust="spacingAndGlyphs">(E)-2-Octenal</text>
<text transform="translate(1617.58 1946.10) rotate(-45)" x="-138.63" y="0.00" font-size="23.92" textLength="138.63" lengthAdjust="spacingAndGlyphs">3-Heptanone</text>
<text transform="translate(1673.97 1942.60) rotate(-45)" x="-106.46" y="0.00" font-size="23.92" textLength="106.46" lengthAdjust="spacingAndGlyphs">2-Hexanol</text>
<text transform="translate(1726.16 1943.30) rotate(-45)" x="-117.70" y="0.00" font-size="23.92" textLength="117.70" lengthAdjust="spacingAndGlyphs">Octyl ether</text>
</g>
</svg>
</body>
</html>
